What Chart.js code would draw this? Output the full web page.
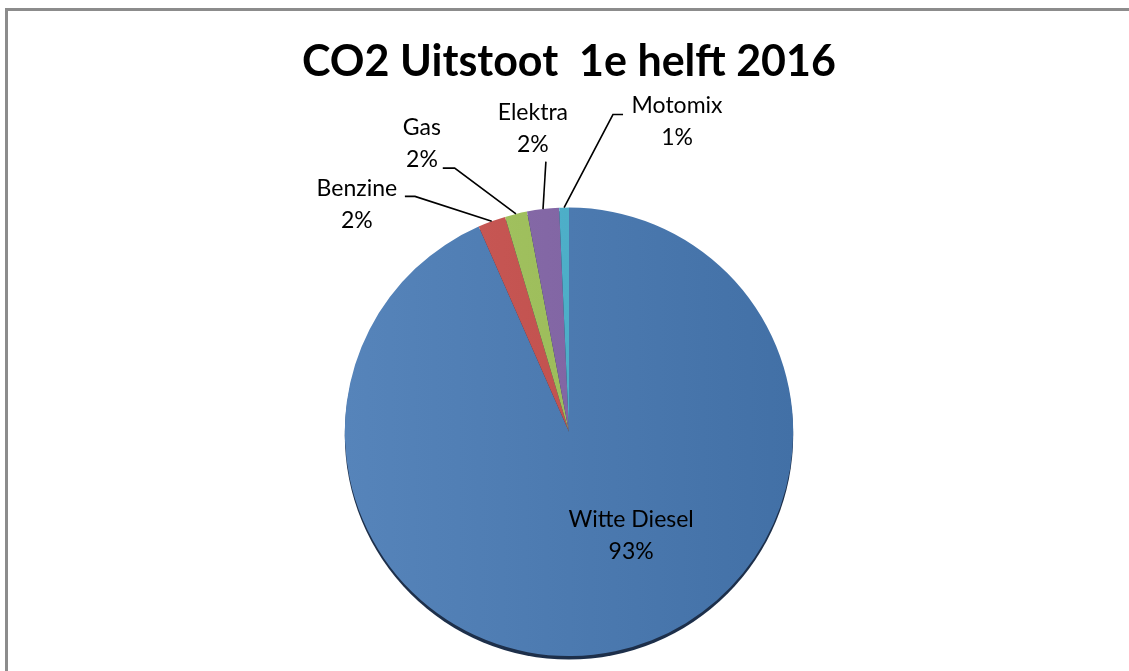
<!DOCTYPE html>
<html>
<head>
<meta charset="utf-8">
<script src="https://cdn.jsdelivr.net/npm/chart.js@4"></script>
<style>
    html, body { margin: 0; padding: 0; background: #fff; overflow: hidden; }
    #wrap { position: relative; width: 1129px; height: 671px; }
    #frame {
        position: absolute; left: 5px; top: 8px; width: 1200px; height: 800px;
        border-left: 3px solid #8c8c8c; border-top: 3px solid #8c8c8c;
        box-sizing: border-box;
    }
    canvas { position: absolute; left: 0; top: 0; }
</style>
</head>
<body>
<div id="wrap">
    <div id="frame"></div>
    <canvas id="co2Chart" width="1129" height="671"></canvas>
</div>
<script>
// Data
const categories = ['Witte Diesel', 'Benzine', 'Gas', 'Elektra', 'Motomix'];
const shares = [93.4, 2.0, 1.6, 2.3, 0.7];
const sliceColors = ['#4a78ae', '#c0504d', '#9bbb59', '#8064a2', '#4bacc6'];

// Label placement relative to pie center, in radius units (text + elbow)
const labelLayout = [
    { tx: 0.277, ty: 0.39, elbow: null },
    { tx: -0.946, ty: -1.085, elbow: [-0.732, -1.05, -0.687, -1.05] },
    { tx: -0.656, ty: -1.355, elbow: [-0.563, -1.176, -0.51, -1.176] },
    { tx: -0.161, ty: -1.425, elbow: [-0.103, -1.205, -0.103, -1.205] },
    { tx: 0.482, ty: -1.455, elbow: [0.241, -1.415, 0.196, -1.415] }
];

const FONT = 'Lato, "Open Sans", sans-serif';

function shade(hex, amt) {
    const n = parseInt(hex.slice(1), 16);
    const c = [n >> 16, (n >> 8) & 255, n & 255].map(v => Math.max(0, Math.min(255, Math.round(v + amt))));
    return `rgb(${c[0]},${c[1]},${c[2]})`;
}

// Dark rim under the pie
const rimPlugin = {
    id: 'rim',
    beforeDatasetsDraw(chart) {
        const arc = chart.getDatasetMeta(0).data[0];
        if (!arc) return;
        const ctx = chart.ctx;
        ctx.save();
        ctx.fillStyle = '#1d2f4a';
        ctx.beginPath();
        ctx.arc(arc.x, arc.y + 3.5, arc.outerRadius, 0, Math.PI * 2);
        ctx.fill();
        ctx.restore();
    }
};

// Category + percentage labels with leader lines
const labelPlugin = {
    id: 'pieLabels',
    afterDatasetsDraw(chart) {
        const ctx = chart.ctx;
        const meta = chart.getDatasetMeta(0);
        const total = shares.reduce((a, b) => a + b, 0);
        ctx.save();
        meta.data.forEach((arc, i) => {
            const r = arc.outerRadius;
            const cx = arc.x, cy = arc.y;
            const lay = labelLayout[i];
            if (lay.elbow) {
                const mid = (arc.startAngle + arc.endAngle) / 2;
                const ax = cx + Math.cos(mid) * r;
                const ay = cy + Math.sin(mid) * r;
                ctx.strokeStyle = '#000';
                ctx.lineWidth = 1.6;
                ctx.beginPath();
                ctx.moveTo(cx + lay.elbow[0] * r, cy + lay.elbow[1] * r);
                ctx.lineTo(cx + lay.elbow[2] * r, cy + lay.elbow[3] * r);
                ctx.lineTo(ax, ay);
                ctx.stroke();
            }
            const pct = Math.round(shares[i] / total * 100) + '%';
            const x = cx + lay.tx * r;
            const y = cy + lay.ty * r;
            ctx.fillStyle = '#000';
            ctx.font = '23px ' + FONT;
            ctx.textAlign = 'center';
            ctx.textBaseline = 'middle';
            ctx.fillText(categories[i], x, y);
            ctx.fillText(pct, x, y + 32);
        });
        ctx.restore();
    }
};

new Chart(document.getElementById('co2Chart'), {
    type: 'pie',
    data: {
        labels: categories,
        datasets: [{
            data: shares,
            backgroundColor(context) {
                const area = context.chart.chartArea;
                const base = sliceColors[context.dataIndex];
                if (!area) return base;
                const g = context.chart.ctx.createLinearGradient(345, 0, 793, 0);
                g.addColorStop(0, shade(base, 12));
                g.addColorStop(1, shade(base, -8));
                return g;
            },
            borderWidth: 0
        }]
    },
    options: {
        responsive: false,
        animation: false,
        layout: { padding: { top: 0, bottom: 15, left: 100, right: 91 } },
        plugins: {
            legend: { display: false },
            tooltip: { enabled: false },
            title: {
                display: true,
                text: 'CO2 Uitstoot  1e helft 2016',
                color: '#000',
                font: { family: FONT, size: 43, weight: 'bold' },
                padding: { top: 36, bottom: 120 }
            }
        }
    },
    plugins: [rimPlugin, labelPlugin]
});
</script>
</body>
</html>
